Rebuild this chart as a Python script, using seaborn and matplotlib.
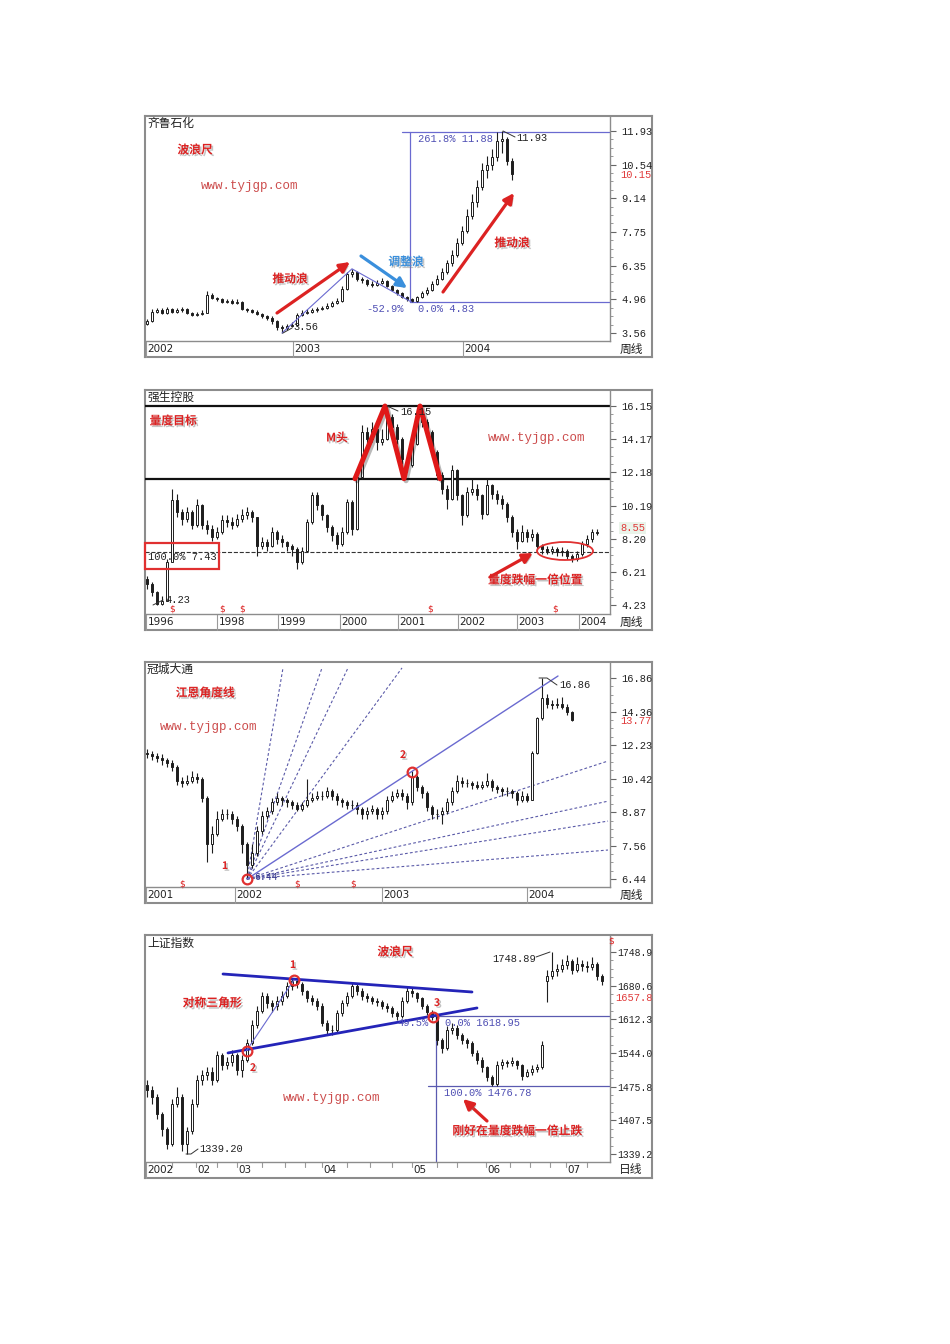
import numpy as np
import matplotlib
matplotlib.use("Agg")
import matplotlib.pyplot as plt
import matplotlib.patheffects as pe
import matplotlib.transforms as mtransforms
from matplotlib.lines import Line2D
from matplotlib.patches import FancyArrowPatch, Rectangle, Ellipse
import seaborn as sns

sns.set_theme(style="white")
plt.rcParams["font.family"] = ["Noto Sans CJK SC", "DejaVu Sans"]
plt.rcParams["axes.unicode_minus"] = False

# ======================= DATA =======================
# Panel 1 : 齐鲁石化 (weekly)
p1_first_open = 3.95
p1_close = [4.05, 4.45, 4.50, 4.40, 4.55, 4.45, 4.50, 4.55, 4.40, 4.30, 4.35, 4.40, 5.15, 5.00, 4.95, 4.85,
            4.90, 4.80, 4.85, 4.55, 4.50, 4.45, 4.35, 4.25, 4.20, 4.05, 3.80, 3.75, 3.85, 3.90, 4.30, 4.40,
            4.45, 4.50, 4.55, 4.60, 4.70, 4.80, 4.90, 5.40, 6.00, 6.10, 5.80, 5.75, 5.60, 5.55, 5.65, 5.70,
            5.50, 5.35, 5.20, 5.05, 4.95, 4.88, 5.05, 5.20, 5.35, 5.60, 5.80, 6.10, 6.45, 6.80, 7.30, 7.80,
            8.40, 9.00, 9.60, 10.30, 10.50, 10.85, 11.50, 11.60, 10.70, 10.15]
p1_high = [4.15, 4.55, 4.6, 4.6, 4.65, 4.6, 4.6, 4.65, 4.6, 4.45, 4.45, 4.5, 5.3, 5.2, 5.05, 5.0, 4.95, 4.95,
           4.95, 4.9, 4.6, 4.55, 4.5, 4.4, 4.3, 4.25, 4.1, 3.9, 3.95, 4.0, 4.4, 4.5, 4.55, 4.6, 4.65, 4.7,
           4.8, 4.9, 5.0, 5.5, 6.1, 6.22, 6.15, 5.9, 5.8, 5.7, 5.75, 5.85, 5.75, 5.55, 5.4, 5.25, 5.1, 5.0,
           5.1, 5.3, 5.45, 5.7, 5.95, 6.25, 6.6, 7.0, 7.5, 8.0, 8.7, 9.3, 9.9, 10.6, 10.9, 11.2, 11.88,
           11.93, 11.7, 10.8]
p1_low = [3.9, 4.0, 4.4, 4.35, 4.35, 4.4, 4.4, 4.45, 4.35, 4.25, 4.25, 4.3, 4.4, 4.95, 4.9, 4.8, 4.8, 4.75,
          4.75, 4.5, 4.45, 4.4, 4.3, 4.2, 4.1, 3.95, 3.7, 3.56, 3.7, 3.8, 3.85, 4.25, 4.35, 4.4, 4.45, 4.5,
          4.55, 4.65, 4.75, 4.85, 5.35, 5.9, 5.7, 5.65, 5.5, 5.45, 5.5, 5.6, 5.45, 5.3, 5.15, 5.0, 4.9, 4.83,
          4.85, 5.0, 5.15, 5.3, 5.55, 5.75, 6.0, 6.35, 6.7, 7.2, 7.7, 8.3, 8.8, 9.5, 10.0, 10.3, 10.7, 11.0,
          10.5, 9.9]
p1_yticks = [11.93, 10.54, 9.14, 7.75, 6.35, 4.96, 3.56]
p1_ylabels = ["11.93", "10.54", "9.14", "7.75", "6.35", "4.96", "3.56"]
p1_xtick_pos = [0, 29.4, 63.4]
p1_xtick_lab = ["2002", "2003", "2004"]
p1_wave_x = [27, 41, 53]
p1_wave_y = [3.56, 6.22, 4.83]
p1_fib_top, p1_fib_bot = 11.88, 4.83
p1_fib_x0, p1_fib_xv = 51.0, 52.6
p1_last = "10.15"

# Panel 2 : 强生控股 (weekly)
p2_first_open = 5.8
p2_close = [5.5, 5.0, 4.3, 4.5, 6.8, 10.5, 9.8, 9.4, 9.8, 9.0, 10.2, 9.0, 8.8, 8.3, 8.6, 9.3, 9.2, 9.0, 9.4,
            9.6, 9.8, 9.5, 7.8, 8.0, 7.8, 8.6, 8.2, 8.0, 7.8, 7.6, 6.8, 7.5, 9.2, 10.8, 10.2, 9.6, 8.9, 8.4,
            7.9, 8.6, 10.4, 8.8, 11.9, 14.6, 14.2, 14.8, 14.0, 14.2, 15.5, 14.9, 14.2, 13.0, 12.6, 13.9,
            15.6, 15.2, 14.6, 13.4, 12.0, 11.2, 10.6, 12.3, 10.8, 9.6, 11.0, 11.2, 10.8, 9.7, 11.4, 10.9,
            10.6, 10.3, 9.5, 8.6, 8.1, 8.6, 8.3, 8.5, 7.8, 7.6, 7.5, 7.6, 7.4, 7.5, 7.2, 7.0, 7.3, 7.9, 8.2,
            8.6, 8.55]
p2_high = [6.0, 5.6, 5.1, 4.8, 7.0, 11.2, 10.9, 10.0, 10.1, 9.9, 10.6, 10.3, 9.3, 9.0, 8.9, 9.6, 9.6, 9.5,
           9.7, 10.0, 10.1, 9.9, 9.5, 8.3, 8.2, 8.9, 8.7, 8.4, 8.1, 7.9, 7.7, 7.7, 9.4, 11.0, 11.0, 10.3, 9.7,
           9.0, 8.6, 8.9, 10.6, 10.5, 12.2, 15.0, 14.9, 15.2, 15.0, 14.8, 16.15, 15.7, 15.1, 14.3, 13.3,
           14.2, 16.05, 15.8, 15.4, 14.7, 13.5, 12.2, 11.4, 12.6, 12.4, 10.9, 11.3, 11.8, 11.5, 10.9, 11.8,
           11.5, 11.1, 10.8, 10.4, 9.6, 8.8, 9.0, 8.8, 8.8, 8.6, 7.9, 7.8, 7.8, 7.7, 7.7, 7.6, 7.3, 7.5,
           8.1, 8.4, 8.8, 8.8]
p2_low = [5.2, 4.8, 4.23, 4.25, 4.5, 6.8, 9.5, 9.0, 9.2, 8.8, 8.9, 8.8, 8.5, 8.1, 8.2, 8.5, 8.9, 8.8, 8.9,
          9.2, 9.4, 9.2, 7.2, 7.6, 7.5, 7.7, 7.9, 7.7, 7.5, 7.2, 6.4, 6.7, 7.4, 9.1, 9.9, 9.3, 8.6, 8.1,
          7.6, 7.8, 8.5, 8.4, 8.7, 11.8, 13.6, 14.0, 13.5, 13.8, 14.1, 14.5, 13.9, 12.7, 12.2, 12.5, 13.8,
          14.9, 14.3, 13.1, 11.7, 10.9, 10.0, 10.5, 10.5, 9.0, 9.5, 10.8, 10.5, 9.4, 9.6, 10.6, 10.3, 10.0,
          9.2, 8.3, 7.6, 8.0, 8.0, 8.1, 7.5, 7.3, 7.3, 7.3, 7.2, 7.2, 7.0, 6.8, 6.9, 7.2, 7.7, 8.0, 8.4]
p2_yticks = [16.15, 14.17, 12.18, 10.19, 8.20, 6.21, 4.23]
p2_ylabels = ["16.15", "14.17", "12.18", "10.19", "8.20", "6.21", "4.23"]
p2_xtick_pos = [0, 14.2, 26.4, 38.8, 50.4, 62.4, 74.2, 86.6]
p2_xtick_lab = ["1996", "1998", "1999", "2000", "2001", "2002", "2003", "2004"]
p2_target, p2_mid, p2_base = 16.15, 11.80, 7.43
p2_mhead_x = [41.6, 47.6, 51.4, 54.6, 58.6]
p2_mhead_y = [11.8, 16.15, 11.8, 16.15, 11.8]
p2_last = "8.55"

# Panel 3 : 冠城大通 (weekly, log scale)
p3_first_open = 11.8
p3_close = [11.7, 11.6, 11.5, 11.4, 11.2, 11.0, 10.3, 10.2, 10.3, 10.5, 10.4, 9.5, 7.6, 8.0, 8.6, 8.8, 8.8,
            8.6, 8.3, 7.6, 6.9, 7.3, 8.1, 8.7, 8.9, 9.3, 9.5, 9.4, 9.3, 9.2, 9.0, 9.2, 9.4, 9.5, 9.6, 9.6,
            9.8, 9.6, 9.4, 9.3, 9.2, 9.2, 9.0, 8.8, 8.9, 9.0, 8.8, 8.9, 9.4, 9.6, 9.7, 9.6, 9.3, 10.5, 10.0,
            9.7, 9.1, 8.8, 8.8, 8.9, 9.3, 9.8, 10.3, 10.2, 10.2, 10.1, 10.0, 10.1, 10.3, 10.0, 9.9, 9.8, 9.8,
            9.7, 9.4, 9.6, 9.4, 11.8, 13.9, 15.3, 14.9, 14.8, 14.9, 14.7, 14.3, 13.77]
p3_high = [12.0, 11.9, 11.8, 11.7, 11.5, 11.4, 11.1, 10.5, 10.6, 10.8, 10.7, 10.5, 9.6, 8.3, 8.9, 9.0, 9.0,
           8.9, 8.7, 8.4, 7.7, 7.6, 8.3, 8.9, 9.1, 9.5, 9.7, 9.6, 9.5, 9.4, 9.3, 9.3, 10.4, 9.7, 9.8, 9.8,
           10.0, 9.9, 9.7, 9.5, 9.4, 9.4, 9.3, 9.1, 9.1, 9.2, 9.1, 9.1, 9.6, 9.8, 9.9, 9.9, 9.7, 10.8,
           10.6, 10.1, 9.8, 9.2, 9.0, 9.1, 9.5, 10.0, 10.6, 10.5, 10.4, 10.3, 10.3, 10.3, 10.7, 10.4, 10.1,
           10.0, 10.0, 9.9, 9.8, 9.8, 9.7, 11.9, 14.0, 16.86, 15.6, 15.2, 15.3, 15.4, 14.9, 14.4]
p3_low = [11.5, 11.4, 11.3, 11.1, 11.0, 10.8, 10.1, 10.0, 10.1, 10.2, 10.2, 9.3, 7.0, 7.3, 7.9, 8.5, 8.6, 8.4,
          8.1, 7.3, 6.44, 6.8, 7.2, 8.0, 8.6, 8.8, 9.2, 9.2, 9.1, 9.0, 8.9, 8.9, 9.1, 9.3, 9.4, 9.4, 9.5,
          9.4, 9.2, 9.1, 9.0, 9.0, 8.8, 8.6, 8.6, 8.8, 8.6, 8.6, 8.8, 9.3, 9.5, 9.4, 9.0, 9.2, 9.8, 9.5,
          8.9, 8.6, 8.6, 8.4, 8.8, 9.2, 9.7, 10.0, 10.0, 9.9, 9.9, 9.9, 10.0, 9.8, 9.7, 9.6, 9.6, 9.5, 9.2,
          9.3, 9.3, 9.4, 11.7, 13.8, 14.6, 14.5, 14.6, 14.5, 14.1, 13.7]
p3_yticks = [16.86, 14.36, 12.23, 10.42, 8.87, 7.56, 6.44]
p3_ylabels = ["16.86", "14.36", "12.23", "10.42", "8.87", "7.56", "6.44"]
p3_xtick_pos = [0, 17.8, 47.2, 76.2]
p3_xtick_lab = ["2001", "2002", "2003", "2004"]
p3_fan_origin = (20, 6.44)
p3_fan_solid_end = (82.2, 17.02)
p3_fan_steep_x = [27.2, 35.0, 40.2, 51.0]
p3_fan_steep_y = [17.69, 17.69, 17.69, 17.69]
p3_fan_flat_x = [92.2, 92.2, 92.2, 92.2]
p3_fan_flat_y = [11.33, 9.35, 8.50, 7.40]
p3_point2 = (53, 10.75)
p3_last = "13.77"

# Panel 4 : 上证指数 (daily)
p4_first_open = 1480
p4_gap_open = {80: 1690}
p4_close = [1470, 1455, 1420, 1390, 1360, 1440, 1455, 1360, 1385, 1440, 1490, 1500, 1505, 1490, 1540, 1520,
            1525, 1540, 1510, 1530, 1565, 1600, 1630, 1660, 1645, 1640, 1650, 1660, 1680, 1690, 1685, 1670,
            1655, 1650, 1640, 1605, 1590, 1590, 1625, 1645, 1660, 1680, 1670, 1660, 1655, 1650, 1648, 1640,
            1636, 1625, 1620, 1650, 1670, 1665, 1655, 1640, 1628, 1618, 1570, 1555, 1590, 1595, 1580, 1570,
            1565, 1545, 1530, 1515, 1495, 1482, 1520, 1525, 1523, 1527, 1520, 1498, 1505, 1512, 1515, 1560,
            1700, 1710, 1715, 1722, 1730, 1712, 1725, 1720, 1718, 1725, 1700, 1690]
p4_high = [1490, 1478, 1460, 1425, 1395, 1450, 1475, 1460, 1395, 1450, 1500, 1510, 1515, 1515, 1548, 1545,
           1535, 1550, 1545, 1540, 1572, 1610, 1640, 1668, 1665, 1652, 1660, 1670, 1688, 1695, 1693, 1688,
           1672, 1662, 1655, 1645, 1610, 1600, 1632, 1652, 1668, 1688, 1685, 1675, 1665, 1660, 1656, 1652,
           1645, 1640, 1630, 1658, 1678, 1675, 1668, 1658, 1643, 1632, 1620, 1575, 1598, 1605, 1600, 1585,
           1575, 1568, 1550, 1535, 1518, 1500, 1528, 1532, 1530, 1535, 1530, 1522, 1512, 1520, 1522, 1568,
           1712, 1748.89, 1725, 1735, 1742, 1735, 1738, 1732, 1730, 1738, 1728, 1705]
p4_low = [1455, 1440, 1410, 1375, 1350, 1355, 1435, 1345, 1339.2, 1380, 1435, 1480, 1490, 1480, 1485, 1510,
          1512, 1518, 1500, 1495, 1525, 1560, 1595, 1625, 1635, 1628, 1632, 1642, 1655, 1672, 1675, 1662,
          1648, 1642, 1632, 1598, 1582, 1580, 1585, 1620, 1640, 1655, 1662, 1652, 1648, 1644, 1640, 1633,
          1628, 1618, 1612, 1615, 1645, 1658, 1648, 1634, 1622, 1610, 1560, 1545, 1550, 1583, 1572, 1562,
          1555, 1538, 1522, 1505, 1488, 1476.78, 1478, 1512, 1515, 1518, 1512, 1490, 1495, 1500, 1506, 1512,
          1648, 1695, 1700, 1708, 1715, 1705, 1708, 1710, 1708, 1712, 1692, 1682]
p4_yticks = [1748.9, 1680.6, 1612.3, 1544.0, 1475.8, 1407.5, 1339.2]
p4_ylabels = ["1748.9", "1680.6", "1612.3", "1544.0", "1475.8", "1407.5", "1339.2"]
p4_xtick_pos = [0, 10, 18.2, 35.2, 53.2, 68, 84]
p4_xtick_lab = ["2002", "02", "03", "04", "05", "06", "07"]
p4_xminor = [5, 14, 23, 27.5, 31.5, 40, 44.5, 49, 58, 62, 72.5, 76.5, 80.5, 88]
p4_tri_upper_x, p4_tri_upper_y = [15.2, 65.0], [1704.3, 1667.8]
p4_tri_lower_x, p4_tri_lower_y = [16.2, 66.0], [1544.2, 1635.4]
p4_points_x = [29.4, 19.9, 57.2]
p4_points_y = [1692.2, 1548.9, 1617.8]
p4_fib_top, p4_fib_bot = 1618.95, 1476.78
p4_fib_x_top, p4_fib_x_bot, p4_fib_xv = 56.6, 56.2, 57.8
p4_last = "1657.8"

# ======================= STYLE / HELPERS =======================
W, H = 950, 1344
fig = plt.figure(figsize=(9.5, 13.44), dpi=100)
fig.patch.set_facecolor("white")

MONO = ["Liberation Mono", "DejaVu Sans Mono"]
RED = "#dc2222"
BLUE_LBL = "#3a8fdc"
FIBBLUE = "#5050b4"
SHADOW = [pe.withSimplePatchShadow(offset=(1.3, -1.3), shadow_rgbFace="#7a7a7a", alpha=0.45)]
LSHADOW = [pe.SimpleLineShadow(offset=(1.5, -1.5), alpha=0.3), pe.Normal()]


def P(x, y):
    return (x / W, 1 - y / H)


def ftext(x, y, s, **kw):
    kw.setdefault("ha", "left")
    kw.setdefault("va", "center")
    kw.setdefault("zorder", 6)
    return fig.text(x / W, 1 - y / H, s, **kw)


def mono(x, y, s, color="#222222", size=7.5, **kw):
    return ftext(x, y, s, color=color, fontsize=size, family=MONO, **kw)


def red_label(x, y, s, color=RED, size=8.5):
    ftext(x, y, s, ha="center", color=color, fontsize=size, fontweight="bold", path_effects=SHADOW)


def www(x, y):
    ftext(x, y, "www.tyjgp.com", ha="center", color="#cc4c4c", fontsize=9, family=MONO)


def fline(xs, ys, **kw):
    kw.setdefault("color", "#333333")
    kw.setdefault("lw", 0.7)
    fig.add_artist(Line2D([x / W for x in xs], [1 - y / H for y in ys], transform=fig.transFigure,
                          zorder=5, **kw))


def farrow(x1, y1, x2, y2, color=RED, lw=2.3):
    a = FancyArrowPatch(P(x1, y1), P(x2, y2), transform=fig.transFigure, arrowstyle="-|>",
                        mutation_scale=15, lw=lw, color=color, shrinkA=0, shrinkB=0, zorder=6)
    a.set_path_effects(SHADOW)
    fig.add_artist(a)


def dollar(x, y):
    ftext(x, y, "\\$", ha="center", color=RED, fontsize=6.5, family=["DejaVu Sans"])


def price_tag(x, y, s, bg=None):
    kw = {}
    if bg:
        kw["bbox"] = dict(boxstyle="square,pad=0.05", fc=bg, ec="none")
    mono(x, y, s, color="#e03a3a", **kw)


def seg(ax, xs, ys, **kw):
    sns.lineplot(x=list(xs), y=list(ys), ax=ax, sort=False, estimator=None, legend=False, **kw)


def make_panel(top, plot_bot, box_bot, ylim, yticks, ylabels, log=False, tick_fs=7.5, pad=4):
    left, right, plot_right = 145, 652, 610
    bg = fig.add_axes([left / W, 1 - box_bot / H, (right - left) / W, (box_bot - top) / H], zorder=0)
    bg.set_xticks([])
    bg.set_yticks([])
    bg.set_facecolor("white")
    for s in bg.spines.values():
        s.set_visible(True)
        s.set_color("#8c8c8c")
        s.set_linewidth(1.5)
    ax = fig.add_axes([left / W, 1 - plot_bot / H, (plot_right - left) / W, (plot_bot - top) / H], zorder=1)
    ax.patch.set_alpha(0)
    for k, s in ax.spines.items():
        s.set_color("#8c8c8c")
        s.set_linewidth(1.0)
        s.set_visible(k in ("right", "bottom"))
    if log:
        ax.set_yscale("log")
    ax._ylim = ylim
    ax._yt = (yticks, ylabels, tick_fs, pad, log)
    ax._band = (plot_bot - top, box_bot - plot_bot)
    return ax


def finish_axes(ax):
    yticks, ylabels, tick_fs, pad, log = ax._yt
    ax.set_xlim(-0.4, 92.6)
    ax.set_ylim(*ax._ylim)
    ax.set_xlabel("")
    ax.set_ylabel("")
    ax.set_xticks([])
    ax.yaxis.tick_right()
    ax.set_yticks(yticks)
    ax.set_yticklabels(ylabels, family=MONO, fontsize=tick_fs, color="#222222")
    srt = sorted(yticks)
    minor = []
    for a, b in zip(srt[:-1], srt[1:]):
        for f in (0.25, 0.5, 0.75):
            minor.append(np.exp(np.log(a) + f * (np.log(b) - np.log(a))) if log else a + f * (b - a))
    ax.set_yticks(minor, minor=True)
    ax.set_yticklabels([], minor=True)
    ax.tick_params(axis="y", which="major", right=True, left=False, direction="out", length=4,
                   width=0.8, color="#666666", pad=pad)
    ax.tick_params(axis="y", which="minor", right=True, left=False, direction="out", length=2,
                   width=0.6, color="#888888")
    ax.tick_params(axis="x", which="both", bottom=False, labelbottom=False)


def x_band(ax, pos, labels, short=False, minor=()):
    plot_h, band_h = ax._band
    f = band_h / plot_h
    tr = mtransforms.blended_transform_factory(ax.transData, ax.transAxes)
    for p, lab in zip(pos, labels):
        y1 = -f * (0.3 if (short and p > 0) else 1.0)
        ax.plot([p - 0.3, p - 0.3], [0, y1], transform=tr, clip_on=False, color="#9a9a9a", lw=0.8)
        ax.text(p + 0.1, -f * 0.52, lab, transform=tr, ha="left", va="center", fontsize=7.5,
                color="#222222", family=["DejaVu Sans"])
    for p in minor:
        ax.plot([p, p], [0, -f * 0.3], transform=tr, clip_on=False, color="#9a9a9a", lw=0.8)


def candles(ax, first_open, closes, highs, lows, gaps=None):
    c = np.asarray(closes, float)
    o = np.r_[first_open, c[:-1]]
    if gaps:
        for k, v in gaps.items():
            o[k] = v
    x = np.arange(len(c))
    hi = np.maximum(np.asarray(highs, float), np.maximum(o, c))
    lo = np.minimum(np.asarray(lows, float), np.minimum(o, c))
    ax.vlines(x, lo, hi, color="#1e1e1e", lw=0.8, zorder=3)
    up = c >= o
    bot = np.minimum(o, c)
    hgt = np.abs(c - o)
    ax.bar(x[up], hgt[up], bottom=bot[up], width=0.52, facecolor="white", edgecolor="#1e1e1e",
           lw=0.7, zorder=4)
    ax.bar(x[~up], hgt[~up], bottom=bot[~up], width=0.52, facecolor="#1e1e1e", edgecolor="#1e1e1e",
           lw=0.7, zorder=4)


# ======================= PANEL 1 =======================
ax1 = make_panel(116, 341, 357, (3.23, 12.55), p1_yticks, p1_ylabels)
seg(ax1, [p1_fib_x0, 92.6], [p1_fib_top, p1_fib_top], color="#6a6ad0", lw=0.9, zorder=2)
seg(ax1, [p1_fib_xv, 92.6], [p1_fib_bot, p1_fib_bot], color="#6a6ad0", lw=0.9, zorder=2)
seg(ax1, [p1_fib_xv, p1_fib_xv], [p1_fib_bot, p1_fib_top], color="#6a6ad0", lw=0.9, zorder=2)
seg(ax1, p1_wave_x, p1_wave_y, color="#6a6ad0", lw=0.8, zorder=5)
candles(ax1, p1_first_open, p1_close, p1_high, p1_low)
finish_axes(ax1)
x_band(ax1, p1_xtick_pos, p1_xtick_lab)

ftext(147, 124, "齐鲁石化", fontsize=8.5, color="#222222")
red_label(195, 150, "波浪尺")
www(250, 186)
farrow(277, 313, 350, 262)
red_label(290, 279, "推动浪")
farrow(361, 256, 407, 288, color=BLUE_LBL)
red_label(406, 262, "调整浪", color=BLUE_LBL)
farrow(443, 292, 514, 193)
red_label(512, 243, "推动浪")
mono(418, 139, "261.8% 11.88", color=FIBBLUE)
fline([503, 515], [131, 137])
mono(516, 138, "11.93")
mono(366, 309, "-52.9%", color=FIBBLUE)
mono(418, 309, "0.0% 4.83", color=FIBBLUE)
fline([283, 292], [333, 328])
mono(293, 327, "3.56")
price_tag(620, 175, p1_last)
ftext(631, 349, "周线", ha="center", fontsize=8.5, color="#222222")

# ======================= PANEL 2 =======================
ax2 = make_panel(390, 614, 630, (3.70, 17.11), p2_yticks, p2_ylabels)
seg(ax2, [-0.4, 92.6], [p2_target, p2_target], color="#111111", lw=1.6, zorder=2)
seg(ax2, [-0.4, 92.6], [p2_mid, p2_mid], color="#111111", lw=1.6, zorder=2)
seg(ax2, [-0.4, 92.6], [p2_base, p2_base], color="#333333", lw=0.8, linestyle="--", zorder=2)
candles(ax2, p2_first_open, p2_close, p2_high, p2_low)
seg(ax2, p2_mhead_x, p2_mhead_y, color="#e01818", lw=3.6, zorder=6, path_effects=LSHADOW)
finish_axes(ax2)
x_band(ax2, p2_xtick_pos, p2_xtick_lab)

ftext(147, 397, "强生控股", fontsize=8.5, color="#222222")
red_label(173, 421, "量度目标")
red_label(337, 438, "M头")
www(537, 438)
fline([387, 398], [406, 411])
mono(400, 412, "16.15")
fig.add_artist(Rectangle(P(145, 569), 74 / W, 26 / H, transform=fig.transFigure, fill=False,
                         ec="#e03030", lw=1.6, zorder=6))
mono(148, 557, "100.0% 7.43")
fline([153, 163], [605, 600])
mono(165, 600, "4.23")
fig.add_artist(Ellipse(P(565, 551), 56 / W, 18 / H, transform=fig.transFigure, fill=False,
                       ec="#e03030", lw=1.3, zorder=6))
farrow(490, 577, 533, 553)
red_label(535, 580, "量度跌幅一倍位置")
for dx in [172, 222, 242, 430, 555]:
    dollar(dx, 609)
price_tag(620, 528, p2_last, bg="#eaf4ea")
ftext(631, 622, "周线", ha="center", fontsize=8.5, color="#222222")

# ======================= PANEL 3 =======================
ax3 = make_panel(662, 887, 903, (6.20, 18.2), p3_yticks, p3_ylabels, log=True)
ox, oy = p3_fan_origin
for ex, ey in zip(p3_fan_steep_x + p3_fan_flat_x, p3_fan_steep_y + p3_fan_flat_y):
    seg(ax3, [ox, ex], [oy, ey], color="#5a5aa8", lw=0.8, linestyle=(0, (2.5, 2)), zorder=2)
seg(ax3, [ox, p3_fan_solid_end[0]], [oy, p3_fan_solid_end[1]], color="#6a6ad0", lw=1.0, zorder=5)
candles(ax3, p3_first_open, p3_close, p3_high, p3_low)
ax3.plot([ox, p3_point2[0]], [oy, p3_point2[1]], ls="none", marker="o", ms=7, mfc="none",
         mec="#e03030", mew=1.6, zorder=7)
finish_axes(ax3)
x_band(ax3, p3_xtick_pos, p3_xtick_lab)

ftext(147, 669, "冠城大通", fontsize=8.5, color="#222222")
red_label(205, 693, "江恩角度线")
www(209, 727)
ftext(225, 866, "1", color=RED, fontsize=7.5, fontweight="bold", ha="center", path_effects=SHADOW)
ftext(403, 755, "2", color=RED, fontsize=7.5, fontweight="bold", ha="center", path_effects=SHADOW)
fline([539, 547, 557], [678, 678, 685])
mono(559, 685, "16.86")
mono(254, 877, "6.44", color="#33338a", size=7)
for dx in [182, 297, 353]:
    dollar(dx, 884)
price_tag(620, 721, p3_last)
ftext(631, 895, "周线", ha="center", fontsize=8.5, color="#222222")

# ======================= PANEL 4 =======================
ax4 = make_panel(935, 1162, 1178, (1323.0, 1783.4), p4_yticks, p4_ylabels, tick_fs=7.0, pad=1.5)
seg(ax4, [p4_fib_x_top, 92.6], [p4_fib_top, p4_fib_top], color="#5a5ab0", lw=0.9, zorder=2)
seg(ax4, [p4_fib_x_bot, 92.6], [p4_fib_bot, p4_fib_bot], color="#5a5ab0", lw=0.9, zorder=2)
seg(ax4, [p4_fib_xv, p4_fib_xv], [p4_fib_top, 1323.0], color="#5a5ab0", lw=0.9, zorder=2)
candles(ax4, p4_first_open, p4_close, p4_high, p4_low, gaps=p4_gap_open)
seg(ax4, p4_tri_upper_x, p4_tri_upper_y, color="#2424b8", lw=2.0, zorder=6)
seg(ax4, p4_tri_lower_x, p4_tri_lower_y, color="#2424b8", lw=2.0, zorder=6)
seg(ax4, [p4_points_x[1], p4_points_x[0]], [p4_points_y[1], p4_points_y[0]], color="#6a6ad0",
    lw=0.8, zorder=6)
ax4.plot(p4_points_x, p4_points_y, ls="none", marker="o", ms=7, mfc="none", mec="#e03030", mew=1.6,
         zorder=7)
finish_axes(ax4)
x_band(ax4, p4_xtick_pos, p4_xtick_lab, short=True, minor=p4_xminor)

ftext(147, 943, "上证指数", fontsize=8.5, color="#222222")
red_label(395, 952, "波浪尺")
red_label(212, 1003, "对称三角形")
for (tx, ty, t) in [(293, 965, "1"), (253, 1068, "2"), (437, 1003, "3")]:
    ftext(tx, ty, t, color=RED, fontsize=7.5, fontweight="bold", ha="center", path_effects=SHADOW)
mono(397, 1023, "49.5%", color=FIBBLUE)
mono(445, 1023, "0.0% 1618.95", color=FIBBLUE)
mono(444, 1093, "100.0% 1476.78", color=FIBBLUE)
www(332, 1098)
fline([186, 191, 198], [1154, 1154, 1149])
mono(199, 1149, "1339.20")
fline([536, 550], [957, 952])
mono(492, 959, "1748.89")
farrow(487, 1121, 463, 1099)
red_label(517, 1131, "刚好在量度跌幅一倍止跌")
dollar(611, 941)
price_tag(615, 998, p4_last)
ftext(631, 1170, "日线", ha="center", fontsize=8.5, color="#222222")

fig.savefig("out.png", dpi=100, facecolor="white")
